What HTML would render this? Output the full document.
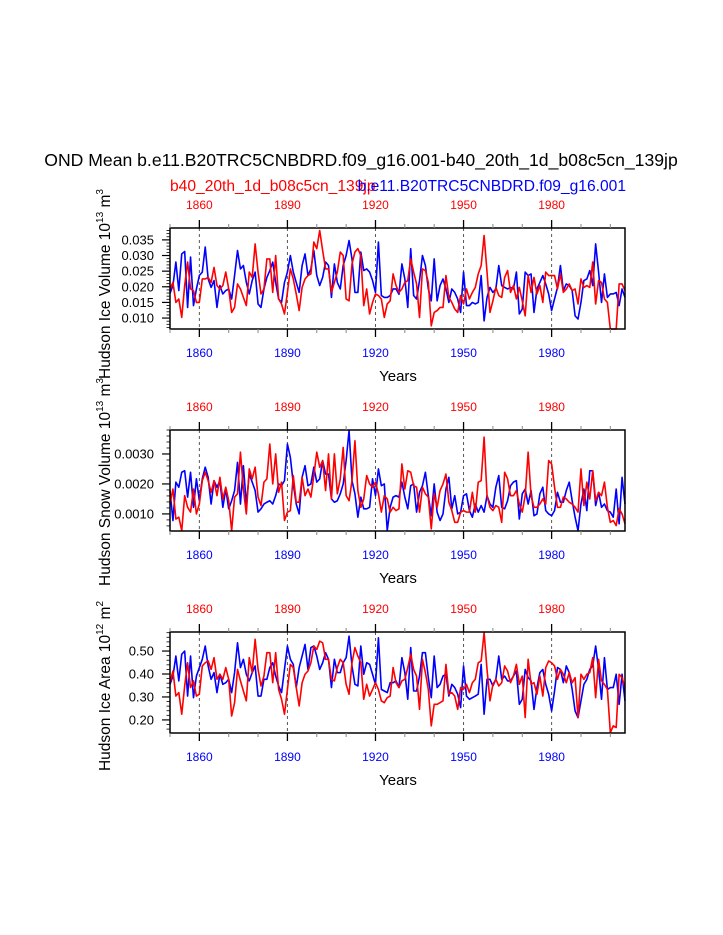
<!DOCTYPE html>
<html><head><meta charset="utf-8"><style>
html,body{margin:0;padding:0;background:#fff;}
svg{display:block;font-family:"Liberation Sans",Arial,sans-serif;}
</style></head><body>
<svg id="chart" width="723" height="935" viewBox="0 0 723 935" xmlns="http://www.w3.org/2000/svg">
<text x="361" y="166" font-size="17.6" text-anchor="middle">OND Mean b.e11.B20TRC5CNBDRD.f09_g16.001-b40_20th_1d_b08c5cn_139jp</text>
<text x="170" y="191" font-size="15.6" fill="#f00">b40_20th_1d_b08c5cn_139jp</text>
<text x="626" y="191" font-size="15.6" fill="#00f" text-anchor="end">b.e11.B20TRC5CNBDRD.f09_g16.001</text>
</svg>
<script>
// shared x-axis
const startYear = 1850;
const xTickYears = [1860, 1890, 1920, 1950, 1980];
const xMinorYears = [1850,1870,1880,1900,1910,1930,1940,1960,1970,1990,2000];

// Panel 1: Hudson Ice Volume (units 1e-3 x 10^13 m^3)
const iceVolBlue = [17.9,20.4,27.9,18.8,30.5,31.3,13.4,29.5,14.0,19.3,
23.6,24.7,32.7,22.5,19.8,22.0,13.4,20.4,17.7,18.8,
19.3,16.1,23.6,31.6,25.7,26.8,21.4,17.7,22.0,24.7,
14.5,13.4,19.3,23.0,25.2,27.9,21.4,16.1,15.0,21.4,
24.7,30.0,24.7,21.4,18.2,26.8,30.5,23.6,25.7,31.6,
23.6,20.4,23.0,27.9,26.8,16.6,27.3,21.4,19.3,26.8,
30.0,34.8,28.9,18.2,18.2,31.1,25.2,25.7,24.7,22.0,
18.2,34.3,17.2,16.6,16.6,17.2,19.3,19.3,17.6,27.3,
22.5,13.4,32.2,17.2,16.1,22.0,30.0,26.8,19.3,15.5,
28.9,15.5,20.4,22.5,19.3,15.0,19.3,18.2,16.1,11.8,
24.7,14.0,14.0,15.0,14.5,15.0,23.6,9.1,16.6,19.8,
18.2,19.3,26.8,20.4,19.8,19.3,19.8,19.3,24.7,11.3,
12.9,24.7,23.6,24.1,11.8,19.3,21.4,23.6,20.9,17.7,
12.4,16.1,19.8,26.8,18.8,20.9,20.4,18.8,10.7,9.7,
15.0,22.0,22.5,25.2,20.4,33.7,24.7,15.0,24.1,16.6,
17.7,17.7,18.2,14.0,19.3,16.6];
const iceVolRed = [19.3,21.4,15.0,16.1,10.2,20.4,27.9,19.3,18.8,15.0,
15.0,22.5,22.5,23.0,21.4,26.2,20.4,19.3,20.4,24.7,
19.3,11.8,13.4,20.9,19.3,16.6,14.0,24.7,23.0,33.7,
24.7,17.7,19.3,28.9,28.9,18.2,30.0,16.1,14.5,11.3,
18.2,25.7,22.5,17.7,12.4,19.8,22.5,23.6,24.1,34.3,
32.2,38.0,31.6,25.7,25.7,18.2,21.4,24.7,31.1,30.0,
16.1,15.5,27.3,31.1,32.2,30.0,14.0,19.3,11.3,15.0,
17.7,17.2,16.1,10.2,14.5,15.5,24.1,20.4,18.2,19.3,
21.4,22.0,28.9,24.7,20.9,10.2,25.7,25.2,21.4,7.5,
11.8,12.4,13.4,13.4,23.6,16.6,15.0,12.9,11.8,17.2,
14.5,19.3,16.1,18.2,19.8,24.1,26.8,36.4,24.7,11.8,
15.5,19.8,17.2,16.6,23.0,25.2,18.2,20.4,16.1,19.8,
15.5,10.7,23.6,18.2,23.0,17.7,20.4,15.0,24.7,23.6,
23.6,23.6,19.3,24.1,18.2,19.3,20.9,18.8,19.3,14.5,
22.5,19.8,20.4,19.8,27.9,14.5,22.0,21.4,16.1,15.0,
6.5,6.5,6.5,20.9,20.9,18.8];
const iceVolTicks = [10,15,20,25,30,35];
const iceVolTickLabels = ["0.010","0.015","0.020","0.025","0.030","0.035"];

// Panel 2: Hudson Snow Volume (units 1e-4 x 10^13 m^3)
const snowBlue = [17.8,7.8,20.6,18.9,23.9,24.4,15.6,23.9,12.2,21.7,
14.4,21.7,25.6,22.2,13.3,21.1,18.9,21.1,12.2,18.3,
11.7,14.4,17.8,27.2,13.3,26.1,13.3,23.3,20.6,17.8,
10.6,11.7,13.3,13.9,14.4,13.3,16.1,20.0,19.4,21.1,
33.3,28.9,20.0,13.3,10.0,22.2,26.1,19.4,20.0,25.6,
20.6,21.7,27.8,23.3,23.3,15.0,13.9,14.4,16.7,20.0,
27.8,37.8,21.1,16.7,8.9,15.6,11.7,11.7,12.2,21.7,
16.1,25.0,19.4,20.0,4.4,12.2,15.6,16.1,15.6,20.6,
15.6,11.7,19.4,20.0,10.6,17.2,19.4,23.9,16.1,9.4,
20.0,10.6,7.8,10.0,18.3,22.2,11.7,16.1,10.0,10.6,
16.1,16.7,11.1,8.9,13.3,10.6,12.8,10.6,16.1,13.3,
12.2,18.9,22.8,12.2,11.7,14.4,19.4,20.6,21.1,8.3,
16.7,18.3,13.3,17.8,9.4,10.0,16.7,18.9,11.1,10.0,
9.4,11.1,17.2,13.9,13.9,17.8,20.6,14.4,8.9,4.4,
13.3,18.3,11.1,24.4,24.4,12.8,17.2,12.2,13.3,11.1,
10.6,8.9,18.3,6.7,22.2,13.3];
const snowRed = [13.3,18.3,8.3,8.9,4.4,16.1,12.2,10.6,18.3,10.0,
13.3,21.1,23.9,21.1,17.2,21.1,16.1,22.2,15.0,18.9,
14.4,4.4,15.6,16.7,30.6,18.3,10.0,25.0,21.7,25.6,
15.6,12.8,20.6,21.7,33.3,20.0,30.0,17.2,20.6,7.8,
10.6,11.1,22.8,13.9,13.9,22.2,16.1,18.3,15.6,22.8,
30.6,25.6,27.8,17.8,30.0,15.0,30.0,16.7,21.7,32.2,
16.1,14.4,21.1,34.4,17.8,12.2,15.0,22.8,20.0,18.9,
20.6,16.7,10.6,16.1,15.0,10.6,12.2,11.1,11.7,26.7,
18.3,24.4,23.9,19.4,18.9,10.6,18.9,16.7,15.6,5.0,
16.7,12.2,17.8,20.0,23.3,13.9,11.1,7.2,7.2,10.6,
11.1,10.6,10.6,17.2,10.6,20.6,21.1,35.6,16.1,12.2,
11.1,12.8,12.2,7.2,23.9,21.7,16.1,16.1,17.8,13.3,
10.6,16.1,30.6,16.1,12.2,12.2,13.3,15.0,13.3,27.8,
26.7,18.9,12.2,12.2,15.6,15.0,13.9,13.3,12.2,10.6,
25.0,12.8,20.6,15.0,24.4,14.4,17.2,16.1,20.6,12.2,
7.2,7.8,6.1,11.7,10.0,6.7];
const snowTicks = [10,20,30];
const snowTickLabels = ["0.0010","0.0020","0.0030"];

// Panel 3: Hudson Ice Area (units 1e-2 x 10^12 m^2)
const areaBlue = [35.5,39.1,47.8,37.0,48.6,50.0,30.4,47.8,29.7,39.1,
42.8,46.4,52.2,43.5,37.7,40.6,31.9,39.9,35.5,36.2,
37.7,31.9,40.6,53.6,42.8,46.4,39.9,37.0,40.6,43.5,
30.4,30.4,37.7,37.7,42.8,44.9,39.1,34.8,31.9,42.0,
52.2,46.4,44.2,34.1,42.8,47.8,52.9,42.0,51.5,52.2,
47.8,42.0,44.9,49.3,46.4,34.1,46.4,40.6,40.6,44.9,
47.1,56.5,43.5,35.5,34.8,52.2,39.9,44.9,44.2,39.9,
35.5,55.8,33.3,32.6,31.9,36.2,36.2,37.0,34.1,47.1,
40.6,29.0,51.5,32.6,32.6,39.1,49.3,49.3,38.4,29.7,
47.8,34.1,35.5,39.1,39.9,30.4,35.5,34.1,31.2,25.4,
43.5,30.4,29.0,29.7,30.4,31.2,44.2,22.5,37.7,37.7,
34.8,37.7,47.8,37.7,39.1,37.0,37.0,39.1,41.3,26.8,
29.0,42.0,38.4,37.0,24.6,34.1,40.6,42.0,35.5,31.2,
23.9,32.6,42.8,42.0,36.2,43.5,40.6,33.3,23.9,21.0,
28.3,35.5,37.7,42.0,43.5,52.2,42.0,29.0,47.1,33.3,
34.1,34.1,39.9,26.8,39.9,28.3];
const areaRed = [36.2,41.3,30.4,31.9,22.5,34.8,44.9,34.1,37.0,30.4,
31.2,43.5,44.9,45.7,42.0,47.1,37.7,39.9,37.7,42.8,
37.7,21.7,27.5,42.0,37.0,32.6,28.3,47.1,40.6,55.1,
42.0,34.8,39.1,49.3,49.3,36.2,49.3,33.3,29.0,22.5,
33.3,44.2,42.8,34.1,26.1,36.2,39.9,41.3,44.9,52.2,
50.7,54.3,53.6,46.4,46.4,37.7,37.0,42.8,46.4,44.9,
35.5,31.2,44.9,51.5,47.8,44.9,29.0,35.5,30.4,33.3,
36.2,33.3,28.3,27.5,29.7,30.4,42.8,36.2,34.1,37.0,
37.7,42.8,48.6,42.0,39.1,24.6,46.4,40.6,33.3,17.4,
26.8,26.8,27.5,28.3,44.2,31.2,31.9,30.4,24.6,34.1,
33.3,35.5,31.9,36.2,37.7,44.9,45.7,58.0,42.0,28.3,
35.5,37.7,34.8,36.2,43.5,41.3,36.2,39.1,44.2,35.5,
39.1,21.0,46.4,35.5,36.2,31.2,39.1,30.4,42.8,45.7,
44.9,43.5,37.7,42.0,39.9,36.2,40.6,36.2,38.4,21.0,
39.9,37.7,39.9,40.6,47.1,29.7,46.4,37.0,35.5,33.3,
14.5,17.4,16.7,39.9,38.4,34.1];
const areaTicks = [20,30,40,50];
const areaTickLabels = ["0.20","0.30","0.40","0.50"];

const NS = "http://www.w3.org/2000/svg";
const svg = document.getElementById('chart');
const X0 = 170, X1 = 625, endYear = 2005;
function xScale(yr){ return X0 + (yr - startYear) * (X1 - X0) / (endYear - startYear); }
function mk(tag, attrs, parent){
  const e = document.createElementNS(NS, tag);
  for (const k in attrs) e.setAttribute(k, attrs[k]);
  (parent || svg).appendChild(e);
  return e;
}

function drawPanel(p){
  const g = mk('g', {});
  
  
  const yScale = v => p.bot - (v - p.vmin) * (p.bot - p.top) / (p.vmax - p.vmin);
  xTickYears.forEach(yr => {
    const l = mk('line', {x1:xScale(yr), x2:xScale(yr), y1:p.top, y2:p.bot, stroke:'#555', 'stroke-width':1, 'stroke-dasharray':'3,3'}, g);
    
    
  });
  [[p.blue,'#00f','series-blue'],[p.red,'#f00','series-red']].forEach(s => {
    const pts = s[0].map((v,i) => xScale(startYear+i).toFixed(2)+','+yScale(v).toFixed(2)).join(' ');
    const pl = mk('polyline', {points:pts, fill:'none', stroke:s[1], 'stroke-width':1.6, 'stroke-linejoin':'round'}, g);
    
    
  });
  const fr = mk('rect', {x:X0, y:p.top, width:X1-X0, height:p.bot-p.top, fill:'none', stroke:'#000', 'stroke-width':1.5}, g);
  
  
  xTickYears.forEach(yr => {
    const x = xScale(yr);
    mk('line', {x1:x, x2:x, y1:p.top, y2:p.top-8, stroke:'#000', 'stroke-width':1.3}, g);
    mk('line', {x1:x, x2:x, y1:p.bot, y2:p.bot+8, stroke:'#000', 'stroke-width':1.3}, g);
    const t1 = mk('text', {x:x, y:p.top-19, 'font-size':12, fill:'#f00', 'text-anchor':'middle'}, g);
    t1.textContent = yr;
    
    
    const t2 = mk('text', {x:x, y:p.bot+28, 'font-size':12, fill:'#00f', 'text-anchor':'middle'}, g);
    t2.textContent = yr;
    
    
  });
  xMinorYears.forEach(yr => {
    const x = xScale(yr);
    mk('line', {x1:x, x2:x, y1:p.top, y2:p.top-4, stroke:'#888', 'stroke-width':1}, g);
    mk('line', {x1:x, x2:x, y1:p.bot, y2:p.bot+4, stroke:'#888', 'stroke-width':1}, g);
  });
  for (let v = Math.ceil(p.vmin/p.minor)*p.minor; v <= p.vmax; v += p.minor){
    const y = yScale(v);
    mk('line', {x1:X0, x2:X0-3.5, y1:y, y2:y, stroke:'#000', 'stroke-width':0.8}, g);
  }
  p.ticks.forEach((v,i) => {
    const y = yScale(v);
    mk('line', {x1:X0, x2:X0-8, y1:y, y2:y, stroke:'#000', 'stroke-width':1.2}, g);
    const t = mk('text', {x:X0-16, y:y+4.5, 'font-size':13, 'text-anchor':'end'}, g);
    t.textContent = p.labels[i];
    
    
  });
  const xt = mk('text', {x:398, y:p.bot+52, 'font-size':15, 'text-anchor':'middle'}, g);
  xt.textContent = 'Years';
  
  
  const yt = mk('text', {transform:'translate(110,'+p.ycenter+') rotate(-90)', 'font-size':15.5, 'text-anchor':'middle'}, g);
  
  
  yt.innerHTML = p.ytitle + ' 10<tspan dy="-7" font-size="10">' + p.exp1 + '</tspan><tspan dy="7"> m</tspan><tspan dy="-7" font-size="10">' + p.exp2 + '</tspan>';
}

drawPanel({name:'ice-volume-panel', top:228, bot:329, vmin:6.5, vmax:38.8, minor:1, ticks:iceVolTicks, labels:iceVolTickLabels, blue:iceVolBlue, red:iceVolRed, ytitle:'Hudson Ice Volume', exp1:'13', exp2:'3', ycenter:284});
drawPanel({name:'snow-volume-panel', top:430, bot:531, vmin:4.3, vmax:38, minor:2, ticks:snowTicks, labels:snowTickLabels, blue:snowBlue, red:snowRed, ytitle:'Hudson Snow Volume', exp1:'13', exp2:'3', ycenter:482});
drawPanel({name:'ice-area-panel', top:632, bot:733, vmin:14.3, vmax:58.3, minor:2, ticks:areaTicks, labels:areaTickLabels, blue:areaBlue, red:areaRed, ytitle:'Hudson Ice Area', exp1:'12', exp2:'2', ycenter:686});
</script>
</body></html>
